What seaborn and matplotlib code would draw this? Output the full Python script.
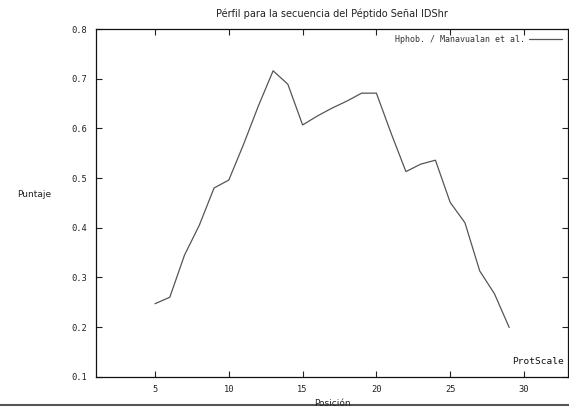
import matplotlib
matplotlib.use("Agg")
import matplotlib.pyplot as plt
from matplotlib.lines import Line2D
import seaborn as sns
import pandas as pd

# Hydrophobicity profile (Manavalan et al.)
posicion = list(range(5, 30))
puntaje = [0.247, 0.260, 0.345, 0.405, 0.480, 0.496, 0.568, 0.645, 0.716, 0.689,
           0.607, 0.625, 0.641, 0.655, 0.671, 0.671, 0.590, 0.513, 0.528, 0.536,
           0.451, 0.410, 0.313, 0.267, 0.199]
x_ticks = [5, 10, 15, 20, 25, 30]
y_ticks = [0.1, 0.2, 0.3, 0.4, 0.5, 0.6, 0.7, 0.8]

df = pd.DataFrame({"Posicion": posicion, "Puntaje": puntaje})

sns.set_style("white")
plt.rcParams["font.family"] = ["DejaVu Sans Mono", "DejaVu Sans"]

fig = plt.figure(figsize=(5.69, 4.08), dpi=100)
ax = fig.add_axes([0.1687, 0.0767, 0.830, 0.852])

sns.lineplot(data=df, x="Posicion", y="Puntaje", ax=ax, color="#555555",
             linewidth=0.9, label="Hphob. / Manavualan et al.")

ax.set_xlim(1, 33)
ax.set_ylim(0.1, 0.8)
ax.set_xticks(x_ticks)
ax.set_yticks(y_ticks)
ax.set_yticklabels([f"{v:.1f}" for v in y_ticks])
ax.tick_params(direction="in", length=4, width=0.8, labelsize=6.3, colors="#222222",
               top=True, right=True, bottom=True, left=True)
ax.tick_params(axis="x", pad=6)
ax.tick_params(axis="y", pad=6.5)
for s in ax.spines.values():
    s.set_color("#111111")
    s.set_linewidth(0.9)

ax.set_xlabel("")
ax.set_ylabel("")
ax.set_title("Pérfil para la secuencia del Péptido Señal IDShr", fontsize=7,
             family="DejaVu Sans", color="#222222", pad=9)

leg = ax.legend(loc="upper right", frameon=False, markerfirst=False, fontsize=6,
                handlelength=4, borderaxespad=0.35, handletextpad=0.5)
for t in leg.get_texts():
    t.set_color("#333333")

ax.text(0.99, 0.03, "ProtScale", transform=ax.transAxes, ha="right", va="bottom",
        fontsize=6.8, color="#111111")

fig.text(0.06, 0.523, "Puntaje", ha="center", va="center", fontsize=6.5,
         family="DejaVu Sans", color="#222222")
fig.text(0.585, 0.001, "Posición", ha="center", va="bottom", fontsize=6.5,
         family="DejaVu Sans", color="#222222")

fig.add_artist(Line2D([0, 1], [0.008, 0.008], transform=fig.transFigure,
                      color="#555555", linewidth=1.5, zorder=0))

fig.savefig("out.png", dpi=100)
